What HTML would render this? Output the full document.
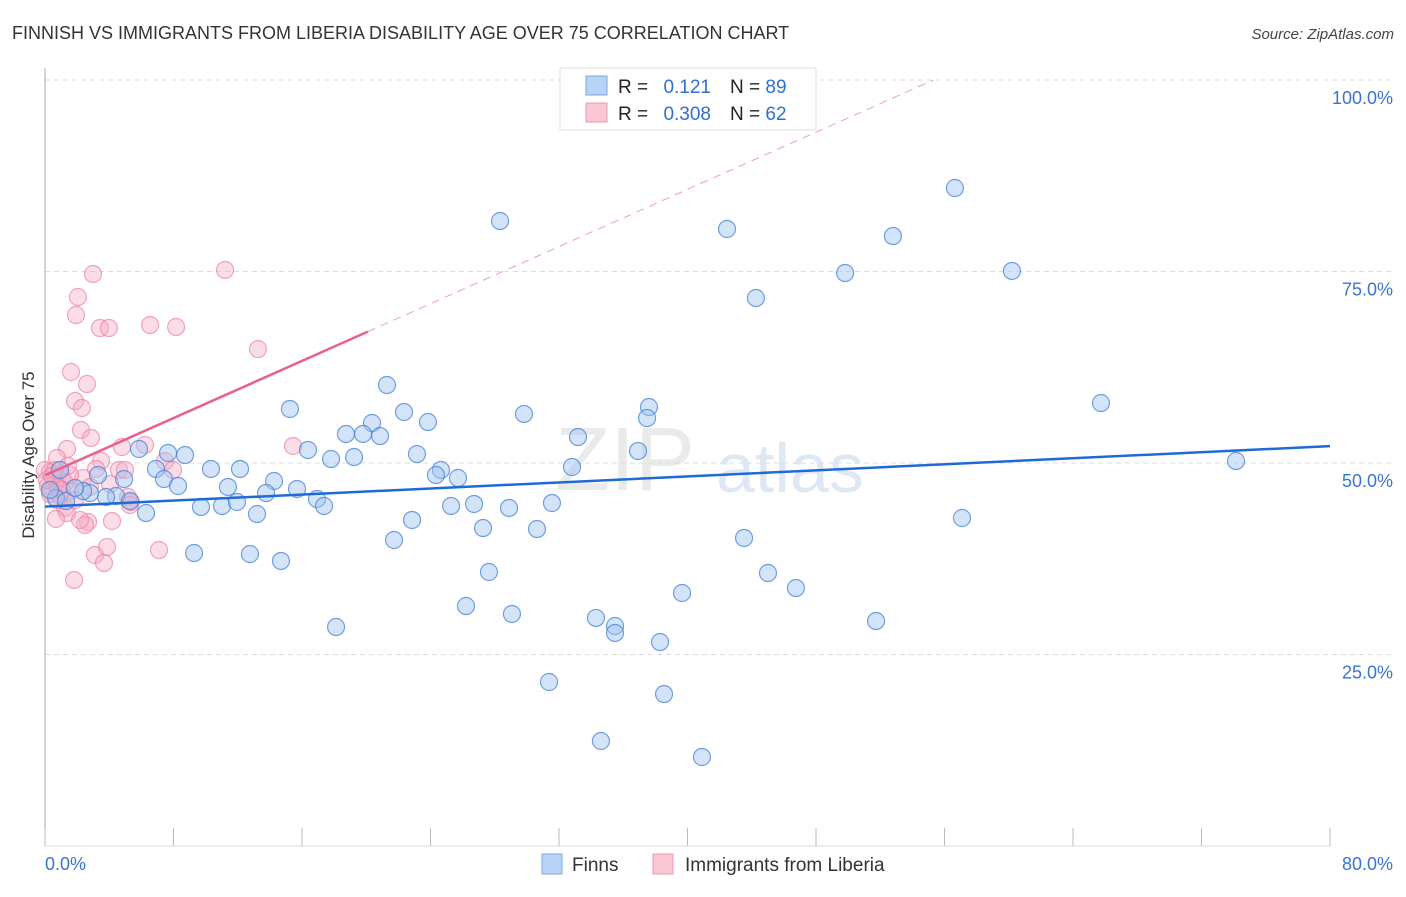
<!DOCTYPE html>
<html><head><meta charset="utf-8"><style>
body{margin:0;background:#fff;font-family:"Liberation Sans",sans-serif}
svg text{font-family:"Liberation Sans",sans-serif}
</style></head><body>
<svg id="c" width="1406" height="892">
<text x="12" y="39" font-size="18" fill="#333">FINNISH VS IMMIGRANTS FROM LIBERIA DISABILITY AGE OVER 75 CORRELATION CHART</text>
<text x="1394" y="39" font-size="15" fill="#444" text-anchor="end" font-style="italic">Source: ZipAtlas.com</text>
<text x="34" y="455" font-size="17" fill="#333" text-anchor="middle" transform="rotate(-90 34 455)">Disability Age Over 75</text>
<text x="555" y="490" font-size="90" fill="#ddd" opacity="0.6" font-family="Liberation Serif">ZIP</text>
<text x="716" y="492" font-size="70" fill="#c9daf0" opacity="0.6">atlas</text>
<g id="grid"></g><g id="pts"></g><g id="lines"></g>
<g>
<rect x="560" y="68" width="256" height="62" fill="#fff" stroke="#ddd"/>
<rect x="586" y="76" width="21" height="19" fill="#b8d3f5" stroke="#7aa7e0"/>
<rect x="586" y="103" width="21" height="19" fill="#f9c6d4" stroke="#ec98b2"/>
<text x="618" y="93" font-size="19" fill="#222">R =</text>
<text x="711" y="93" font-size="19" fill="#2f6fd1" text-anchor="end">0.121</text>
<text x="730" y="93" font-size="19" fill="#222">N = <tspan fill="#2f6fd1">89</tspan></text>
<text x="618" y="120" font-size="19" fill="#222">R =</text>
<text x="711" y="120" font-size="19" fill="#2f6fd1" text-anchor="end">0.308</text>
<text x="730" y="120" font-size="19" fill="#222">N = <tspan fill="#2f6fd1">62</tspan></text>
</g>
<g>
<rect x="542" y="854" width="20" height="20" fill="#b8d3f5" stroke="#7aa7e0"/>
<text x="572" y="871" font-size="19" fill="#333">Finns</text>
<rect x="653" y="854" width="20" height="20" fill="#f9c6d4" stroke="#ec98b2"/>
<text x="685" y="871" font-size="19" fill="#333">Immigrants from Liberia</text>
</g>
</svg>
<script>
const yTicks=[25,50,75,100];
const yTickLabels=["25.0%","50.0%","75.0%","100.0%"];
const xTickLabels=["0.0%","80.0%"];
const finnsPx=[[500,221],[955,188],[727,229],[893,236],[845,273],[1012,271],[756,298],[1101,403],[1236,461],[962,518],[387,385],[290,409],[404,412],[524,414],[649,407],[647,418],[428,422],[372,423],[346,434],[363,434],[380,436],[578,437],[638,451],[308,450],[354,457],[331,459],[417,454],[572,467],[441,470],[436,475],[458,478],[185,455],[168,453],[139,449],[156,469],[211,469],[240,469],[164,479],[178,486],[124,479],[98,475],[228,487],[274,481],[297,489],[266,493],[317,499],[324,506],[116,496],[106,497],[90,493],[83,491],[130,501],[146,513],[201,507],[222,506],[237,502],[257,514],[451,506],[474,504],[509,508],[552,503],[412,520],[483,528],[537,529],[394,540],[744,538],[194,553],[250,554],[281,561],[489,572],[768,573],[796,588],[682,593],[466,606],[512,614],[596,618],[615,626],[615,633],[876,621],[336,627],[660,642],[549,682],[664,694],[601,741],[702,757],[56,498],[66,501],[50,490],[75,488],[60,470]];
const liberiaPx=[[225,270],[93,274],[78,297],[76,315],[100,328],[109,328],[150,325],[176,327],[258,349],[71,372],[87,384],[75,401],[82,408],[81,430],[91,438],[67,449],[122,447],[145,445],[293,446],[57,458],[101,461],[165,461],[96,469],[119,470],[125,470],[173,470],[50,472],[62,477],[83,478],[65,483],[55,484],[48,486],[62,490],[70,491],[90,487],[128,497],[131,502],[50,494],[57,500],[65,508],[67,513],[88,522],[56,519],[112,521],[85,525],[95,555],[107,547],[159,550],[104,563],[74,580],[45,470],[47,480],[55,470],[60,495],[75,500],[58,488],[70,475],[130,505],[80,520],[52,476],[68,466],[110,484]];
const finnsX=finnsPx.map(p=>+((p[0]-45)/16.0625).toFixed(2));
const finnsY=finnsPx.map(p=>+((846-p[1])/7.66).toFixed(2));
const liberiaX=liberiaPx.map(p=>+((p[0]-45)/16.0625).toFixed(2));
const liberiaY=liberiaPx.map(p=>+((846-p[1])/7.66).toFixed(2));
const finnsTrend=[44.3,52.2];
const liberiaTrend=[48.4,0.933];
const X=v=>45+v*16.0625, Y=v=>846-v*7.66;
const NS="http://www.w3.org/2000/svg";
function mk(t,a,p){const e=document.createElementNS(NS,t);for(const k in a)e.setAttribute(k,a[k]);p.appendChild(e);return e;}
const g=document.getElementById('grid');
yTicks.forEach((t,i)=>{
 const l=mk('line',{x1:45,x2:1394,y1:Y(t),y2:Y(t),stroke:'#ddd','stroke-dasharray':'5,4'},g);
 
 
 const tx=mk('text',{x:1393,y:Y(t)+24,'font-size':18,fill:'#3a74d3','text-anchor':'end'},g);tx.textContent=yTickLabels[i];
 
 
});
const ax=mk('line',{x1:45,x2:45,y1:68,y2:846,stroke:'#aaa'},g);


const bx=mk('line',{x1:45,x2:1330,y1:846,y2:846,stroke:'#ddd'},g);


for(let i=0;i<=10;i++){const t=mk('line',{x1:X(i*8),x2:X(i*8),y1:828,y2:846,stroke:'#bbb'},g);
 
 }
[[0,45,'start'],[80,1393,'end']].forEach((d,i)=>{const t=mk('text',{x:d[1],y:870,'font-size':18,fill:'#3a74d3','text-anchor':d[2]},g);t.textContent=xTickLabels[i];
 
 });
const P=document.getElementById('pts');
liberiaX.forEach((x,i)=>{const c=mk('circle',{cx:X(x),cy:Y(liberiaY[i]),r:8.5,fill:'rgba(246,170,195,0.4)',stroke:'rgba(236,130,165,0.7)','stroke-width':1.2},P);
 
 });
finnsX.forEach((x,i)=>{const c=mk('circle',{cx:X(x),cy:Y(finnsY[i]),r:8.5,fill:'rgba(160,195,240,0.45)',stroke:'rgba(70,130,215,0.75)','stroke-width':1.2},P);
 
 });
const L=document.getElementById('lines');
const bl=mk('line',{x1:X(0),y1:Y(finnsTrend[0]),x2:X(80),y2:Y(finnsTrend[1]),stroke:'#1f6ad6','stroke-width':2.5},L);


const xe=20.1, xd=(100-liberiaTrend[0])/liberiaTrend[1];
const pl=mk('line',{x1:X(0),y1:Y(liberiaTrend[0]),x2:X(xe),y2:Y(liberiaTrend[0]+liberiaTrend[1]*xe),stroke:'#e8608c','stroke-width':2.5},L);


const pd=mk('line',{x1:X(xe),y1:Y(liberiaTrend[0]+liberiaTrend[1]*xe),x2:X(xd),y2:Y(100),stroke:'#eba0b8','stroke-width':1,'stroke-dasharray':'8,6'},L);


</script>
</body></html>
